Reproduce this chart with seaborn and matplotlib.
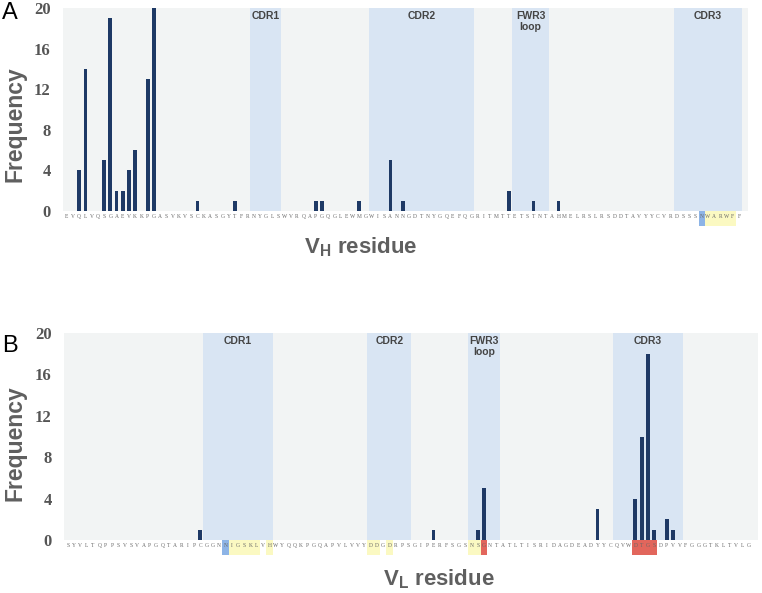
import numpy as np
import pandas as pd
import matplotlib
matplotlib.use("Agg")
import matplotlib.pyplot as plt
import seaborn as sns

# heavy chain
vh_seq = "EVQLVQSGAEVKKPGASVKVSCKASGYTFRNYGLSWVRQAPGQGLEWMGWISANNGDTNYGQEFQGRITMTTETSTNTAHMELRSLRSDDTAVYYCVRDSSSNWARWFF"
vh_pos = [2, 3, 6, 7, 8, 9, 10, 11, 13, 14, 21, 27, 40, 41, 47, 52, 54, 71, 75, 79]
vh_freq = [4, 14, 5, 19, 2, 2, 4, 6, 13, 20, 1, 1, 1, 1, 1, 5, 1, 2, 1, 1]
vh_region_names = ["CDR1", "CDR2", "FWR3\nloop", "CDR3"]
vh_region_start = [30, 49, 72, 98]
vh_region_end = [34, 65, 77, 108]
vh_blue = [102]
vh_yellow = [103, 104, 105, 106, 107]
vh_red = []

# light chain
vl_seq = "SYVLTQPPSVSVAPGQTARIPCGGNNIGSKLVHWYQQKPGQAPVLVVYDDGDRPSGIPERFSGSNSGNTATLTISRIDAGDEADYYCQVWDTGSDPVVFGGGTKLTVLG"
vl_pos = [21, 58, 65, 66, 84, 90, 91, 92, 93, 95, 96]
vl_freq = [1, 1, 1, 5, 3, 4, 10, 18, 1, 2, 1]
vl_region_names = ["CDR1", "CDR2", "FWR3\nloop", "CDR3"]
vl_region_start = [22, 48, 64, 87]
vl_region_end = [32, 54, 68, 97]
vl_blue = [25]
vl_yellow = [26, 27, 28, 29, 30, 32, 48, 49, 51, 64, 65]
vl_red = [66, 90, 91, 92, 93]

yticks = [0, 4, 8, 12, 16, 20]

bg_color = "#f2f4f4"
band_color = "#d9e5f3"
bar_color = "#1e3965"
text_gray = "#5f5f5f"

sns.set_theme(style="white", rc={"axes.facecolor": bg_color})
plt.rcParams["font.family"] = ["Liberation Sans", "DejaVu Sans"]

fig = plt.figure(figsize=(7.62, 5.93), dpi=100)
ax_a = fig.add_axes([63 / 762, 1 - 211 / 593, 685 / 762, 203 / 593])
ax_b = fig.add_axes([64 / 762, 1 - 540 / 593, 694 / 762, 207 / 593])


def draw_panel(ax, seq, pos, freq, names, starts, ends, blue, yellow, red, chain, xlab_pos, ylab_pos):
    n = len(seq)
    counts = np.zeros(n)
    counts[pos] = freq
    df = pd.DataFrame({"residue": np.arange(n), "count": counts})

    # CDR / loop bands
    for name, s, e in zip(names, starts, ends):
        ax.axvspan(s - 0.5, e + 0.5, color=band_color, lw=0, zorder=0)
        ax.text((s + e) / 2, 19.7, name, ha="center", va="top", fontsize=7.5,
                fontweight="bold", color="#444444", linespacing=1.1)

    sns.barplot(data=df, x="residue", y="count", ax=ax, color=bar_color,
                width=0.6, errorbar=None, saturation=1, linewidth=0, zorder=2)

    # residue highlights under sequence
    for idx_list, col in [(blue, "#8db4e6"), (yellow, "#fbf9c2"), (red, "#e2665c")]:
        for i in idx_list:
            ax.axvspan(i - 0.5, i + 0.5, ymin=-0.072, ymax=0, color=col, lw=0,
                       clip_on=False, zorder=0)

    ax.set_xlim(-0.6, n + 0.45)
    ax.set_ylim(0, 20)
    ax.set_xticks(range(n))
    ax.set_xticklabels(list(seq), fontsize=4, family="Liberation Serif", color="#666666")
    ax.set_yticks(yticks)
    ax.set_yticklabels([str(t) for t in yticks], fontsize=12, family="Liberation Serif",
                       fontweight="bold", color="#555555")
    ax.tick_params(axis="x", length=0, pad=2.5)
    ax.tick_params(axis="y", length=0, pad=9)
    sns.despine(ax=ax, left=True, bottom=True)

    ax.set_ylabel("Frequency", fontsize=16.5, fontweight="bold", color=text_gray)
    ax.yaxis.set_label_coords(-0.054, ylab_pos)
    ax.set_xlabel("V$_\\mathregular{" + chain + "}$ residue", fontsize=16,
                  fontweight="bold", color=text_gray)
    ax.xaxis.set_label_coords(xlab_pos[0], xlab_pos[1])


draw_panel(ax_a, vh_seq, vh_pos, vh_freq, vh_region_names, vh_region_start, vh_region_end,
           vh_blue, vh_yellow, vh_red, "H", (0.434, -0.118), 0.43)
draw_panel(ax_b, vl_seq, vl_pos, vl_freq, vl_region_names, vl_region_start, vl_region_end,
           vl_blue, vl_yellow, vl_red, "L", (0.54, -0.13), 0.47)

fig.text(10 / 762, 1 - 13 / 593, "A", fontsize=17, ha="center", va="center", color="black")
fig.text(10 / 762, 1 - 346 / 593, "B", fontsize=17, ha="center", va="center", color="black")

fig.savefig("out.png", dpi=100)
